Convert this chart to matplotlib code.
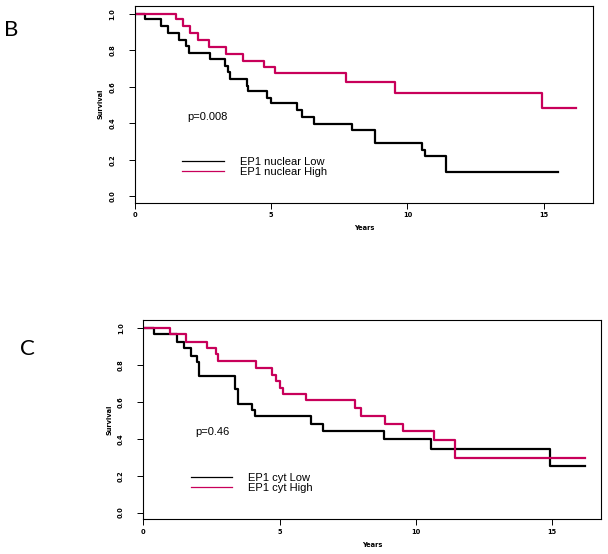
import matplotlib
matplotlib.use("Agg")
import matplotlib.pyplot as plt

# Kaplan-Meier curves (years, survival)
nuc_low_t = [0, 0.38, 0.97, 1.21, 1.60, 1.88, 2.00, 2.74, 3.31, 3.41, 3.50, 4.10, 4.14,
             4.84, 4.98, 5.93, 6.12, 6.58, 7.98, 8.80, 10.54, 10.65, 11.42, 15.54]
nuc_low_s = [1.0, 0.969, 0.933, 0.895, 0.858, 0.824, 0.787, 0.753, 0.716, 0.682, 0.644,
             0.607, 0.576, 0.540, 0.509, 0.473, 0.433, 0.396, 0.364, 0.291, 0.255, 0.222,
             0.131, 0.131]
nuc_high_t = [0, 1.52, 1.76, 2.03, 2.31, 2.70, 3.35, 3.98, 4.75, 5.12, 7.74, 9.53, 14.92, 16.18]
nuc_high_s = [1.0, 0.969, 0.931, 0.895, 0.855, 0.818, 0.782, 0.742, 0.709, 0.673, 0.627,
              0.567, 0.485, 0.485]

cyt_low_t = [0, 0.40, 1.23, 1.50, 1.76, 1.96, 2.06, 3.36, 3.47, 3.99, 4.11, 6.16, 6.58,
             8.82, 10.55, 14.94, 16.22]
cyt_low_s = [1.0, 0.967, 0.927, 0.891, 0.851, 0.815, 0.740, 0.669, 0.591, 0.558, 0.522,
             0.482, 0.442, 0.400, 0.346, 0.255, 0.255]
cyt_high_t = [0, 0.97, 1.56, 2.32, 2.65, 2.74, 4.15, 4.72, 4.87, 5.02, 5.11, 5.96, 7.76,
              8.00, 8.88, 9.55, 10.68, 11.44, 16.20]
cyt_high_s = [1.0, 0.967, 0.927, 0.895, 0.858, 0.822, 0.782, 0.745, 0.713, 0.678, 0.642,
              0.609, 0.569, 0.524, 0.482, 0.440, 0.395, 0.295, 0.295]

xticks = [0, 5, 10, 15]
yticks = [0.0, 0.2, 0.4, 0.6, 0.8, 1.0]
red = "#c8005a"

fig = plt.figure(figsize=(6.08, 5.54), dpi=100)


def km_panel(rect, lo_t, lo_s, hi_t, hi_s, names, ptext):
    ax = fig.add_axes(rect)
    ax.step(lo_t, lo_s, where="post", color="black", lw=1.6)
    ax.step(hi_t, hi_s, where="post", color=red, lw=1.6)
    ax.set_xlim(0, 16.8)
    ax.set_ylim(-0.035, 1.045)
    ax.set_xticks(xticks)
    ax.set_yticks(yticks)
    ax.set_yticklabels([f"{v:.1f}" for v in yticks], rotation=90, va="center")
    ax.tick_params(direction="out", length=4, width=0.7, labelsize=4.8)
    ax.tick_params(axis="x", pad=3)
    ax.tick_params(axis="y", pad=10)
    for lab in ax.get_xticklabels() + ax.get_yticklabels():
        lab.set_fontweight("bold")
    for sp in ax.spines.values():
        sp.set_linewidth(0.8)
    ax.set_xlabel("Years", fontsize=4.8, fontweight="bold", labelpad=5)
    ax.set_ylabel("Survival", fontsize=4.8, fontweight="bold", labelpad=4)
    ax.text(1.92, 0.435, ptext, fontsize=8, family="Liberation Sans", va="center")
    leg = ax.legend(names, loc="center left", bbox_to_anchor=(1.74, 0.16),
                    bbox_transform=ax.transData, frameon=False, borderpad=0,
                    borderaxespad=0, handlelength=3.7, handletextpad=1.5,
                    labelspacing=0.0, prop={"family": "Liberation Sans", "size": 8})
    for h in leg.get_lines():
        h.set_linewidth(0.9)
    return ax


km_panel([0.222, 0.634, 0.753, 0.356], nuc_low_t, nuc_low_s, nuc_high_t, nuc_high_s,
         ["EP1 nuclear Low", "EP1 nuclear High"], "p=0.008")
km_panel([0.2357, 0.0632, 0.7528, 0.3592], cyt_low_t, cyt_low_s, cyt_high_t, cyt_high_s,
         ["EP1 cyt Low", "EP1 cyt High"], "p=0.46")

fig.text(11 / 608, 1 - 30 / 554, "B", fontsize=16, family="Lato", ha="center", va="center")
fig.text(27 / 608, 1 - 349 / 554, "C", fontsize=16, family="Lato", ha="center", va="center")

fig.savefig("out.png", dpi=100)
